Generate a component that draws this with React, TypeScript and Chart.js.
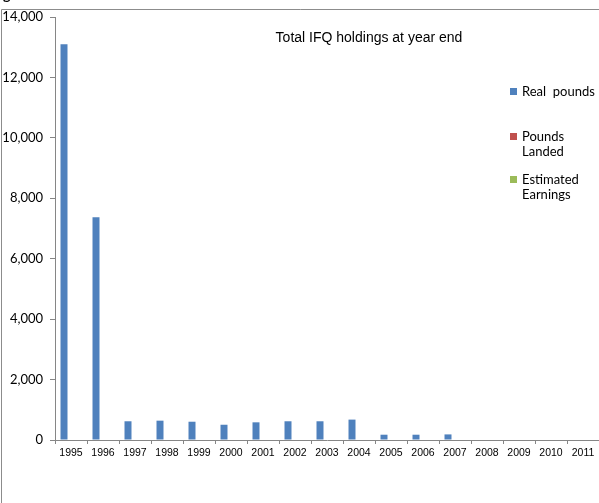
import React, { useEffect, useRef } from "react";
import { Chart, registerables } from "chart.js";

Chart.register(...registerables);

const years = ["1995", "1996", "1997", "1998", "1999", "2000", "2001", "2002", "2003", "2004", "2005", "2006", "2007", "2008", "2009", "2010", "2011"];
const realPounds = [13100, 7370, 620, 640, 605, 505, 585, 620, 620, 675, 175, 175, 185, 0, 0, 0, 0];
const poundsLanded = [null, null, null, null, null, null, null, null, null, null, null, null, null, null, null, null, null];
const estimatedEarnings = [null, null, null, null, null, null, null, null, null, null, null, null, null, null, null, null, null];
const seriesNames = ["Real  pounds", "Pounds\nLanded", "Estimated\nEarnings"];
const seriesColors = ["#4F81BD", "#C0504D", "#9BBB59"];
const yTickMax = 14000;
const yTickStep = 2000;
const chartTitle = "Total IFQ holdings at year end";

const legendTops = [88, 133, 176];

const decorPlugin = {
  id: "decor",
  beforeDraw(chart: any) {
    const ctx = chart.ctx;
    ctx.save();
    ctx.fillStyle = "#ffffff";
    ctx.fillRect(0, 0, chart.width, chart.height);
    ctx.strokeStyle = "#8c8c8c";
    ctx.lineWidth = 1;
    ctx.beginPath();
    ctx.moveTo(1.5, chart.height);
    ctx.lineTo(1.5, 9.5);
    ctx.lineTo(chart.width, 9.5);
    ctx.stroke();
    ctx.fillStyle = "#000";
    ctx.font = "bold 14px Lato";
    ctx.textAlign = "left";
    ctx.textBaseline = "alphabetic";
    ctx.fillText("g", 3, 0);
    ctx.restore();
  },
  afterDraw(chart: any) {
    const ctx = chart.ctx;
    ctx.save();
    ctx.fillStyle = "#000";
    ctx.font = "14px 'Liberation Sans', Arial, sans-serif";
    ctx.textAlign = "center";
    ctx.textBaseline = "alphabetic";
    ctx.fillText(chartTitle, 369, 42);

    chart.data.datasets.forEach((ds: any, i: number) => {
      const top = legendTops[i];
      ctx.fillStyle = ds.backgroundColor;
      ctx.fillRect(510, top, 7, 7);
      ctx.fillStyle = "#000";
      ctx.font = "13px Lato";
      ctx.textAlign = "left";
      ctx.textBaseline = "middle";
      String(ds.label).split("\n").forEach((line: string, j: number) => {
        ctx.fillText(line, 522, top + 3.5 + j * 15.5);
      });
    });
    ctx.restore();
  },
};

export default function App() {
  const ref = useRef<HTMLCanvasElement | null>(null);
  useEffect(() => {
    if (!ref.current) return;
    const chart = new Chart(ref.current, {
      type: "bar",
      data: {
        labels: years,
        datasets: [
          { label: seriesNames[0], data: realPounds, backgroundColor: seriesColors[0] },
          { label: seriesNames[1], data: poundsLanded as any, backgroundColor: seriesColors[1] },
          { label: seriesNames[2], data: estimatedEarnings as any, backgroundColor: seriesColors[2] },
        ],
      },
      options: {
        responsive: false,
        animation: false,
        devicePixelRatio: 1,
        layout: { padding: { top: 17, right: 0, left: 0, bottom: 0 } },
        datasets: { bar: { categoryPercentage: 0.656, barPercentage: 1, borderWidth: 0 } } as any,
        plugins: {
          legend: { display: false },
          title: { display: false },
          tooltip: { enabled: false },
        },
        scales: {
          x: {
            type: "category",
            offset: true,
            grid: { display: true, drawOnChartArea: false, offset: true, tickLength: 4, color: "#868686" },
            border: { display: true, color: "#868686", width: 1 },
            ticks: {
              color: "#000",
              font: { family: "'Liberation Sans', Arial, sans-serif", size: 10.5 },
              padding: 3,
              maxRotation: 0,
              autoSkip: false,
            },
            afterFit(scale: any) {
              scale.height = 63;
            },
          },
          y: {
            min: 0,
            max: yTickMax,
            grid: { display: true, drawOnChartArea: false, tickLength: 5, color: "#868686" },
            border: { display: true, color: "#868686", width: 1 },
            ticks: {
              stepSize: yTickStep,
              color: "#000",
              font: { family: "Lato", size: 13 },
              padding: 7,
              callback: (v: any) => Number(v).toLocaleString("en-US"),
            },
            afterFit(scale: any) {
              scale.width = 55;
            },
          },
        },
      },
      plugins: [decorPlugin],
    });
    return () => chart.destroy();
  }, []);
  return (
    <div style={{ position: "fixed", left: 0, top: 0, width: 599, height: 503, background: "#fff" }}>
      <canvas ref={ref} width={599} height={503} style={{ display: "block", width: 599, height: 503 }} />
    </div>
  );
}
